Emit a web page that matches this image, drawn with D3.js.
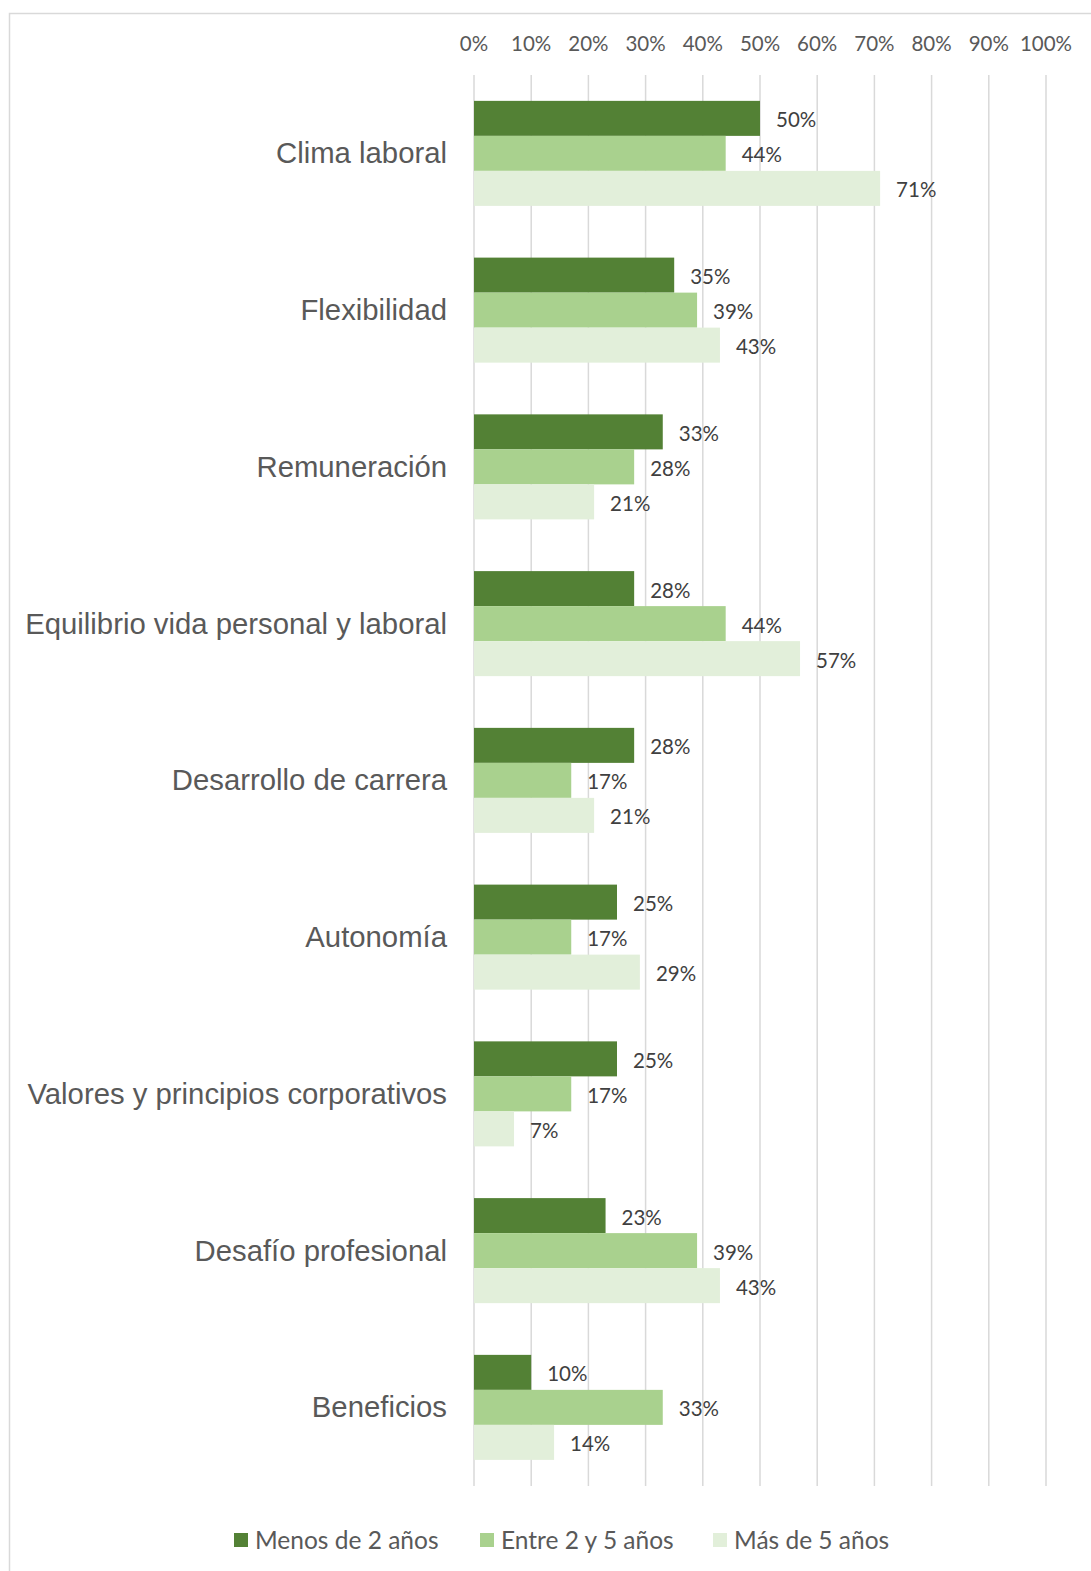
<!DOCTYPE html>
<html>
<head>
<meta charset="utf-8">
<script src="https://cdn.jsdelivr.net/npm/d3@7"></script>
<style>
  html, body { margin: 0; padding: 0; background: #fff; }
</style>
</head>
<body>
<div id="chart"></div>
<script>
// data
const categories = [
    "Clima laboral", "Flexibilidad", "Remuneración", "Equilibrio vida personal y laboral",
    "Desarrollo de carrera", "Autonomía", "Valores y principios corporativos",
    "Desafío profesional", "Beneficios"
];
const seriesNames = ["Menos de 2 años", "Entre 2 y 5 años", "Más de 5 años"];
const menosDe2 = [50, 35, 33, 28, 28, 25, 25, 23, 10];
const entre2y5 = [44, 39, 28, 44, 17, 17, 17, 39, 33];
const masDe5 = [71, 43, 21, 57, 21, 29, 7, 43, 14];
const tickValues = [0, 10, 20, 30, 40, 50, 60, 70, 80, 90, 100];

const seriesValues = [menosDe2, entre2y5, masDe5];
const colors = ["#538135", "#A9D18E", "#E2EFDA"];

const width = 1091;
const height = 1571;
const labelFont = "Lato, 'Open Sans', sans-serif";

// plot area
const margin = { top: 75, left: 474, right: 45, bottom: 85 };

const svg = d3.select("#chart")
    .append("svg")
    .attr("width", width)
    .attr("height", height);

// chart border (runs off the right and bottom edges)
svg.append("rect")
    .attr("x", 9.5)
    .attr("y", 13.5)
    .attr("width", 1200)
    .attr("height", 1700)
    .attr("fill", "none")
    .attr("stroke", "#D9D9D9")
    .attr("stroke-width", 1.5);

const x = d3.scaleLinear()
    .domain([0, 100])
    .range([margin.left, 1046]);

const y = d3.scaleBand()
    .domain(categories)
    .range([margin.top, 75 + 9 * 156.75])
    .paddingInner(0.33)
    .paddingOuter(0.165);

const ySub = d3.scaleBand()
    .domain(seriesNames)
    .range([0, y.bandwidth()]);

// gridlines
svg.append("g")
    .selectAll("line")
    .data(tickValues)
    .join("line")
    .attr("x1", d => x(d))
    .attr("x2", d => x(d))
    .attr("y1", margin.top)
    .attr("y2", 1486)
    .attr("stroke", "#D9D9D9")
    .attr("stroke-width", 1.5);

// top axis labels
svg.append("g")
    .attr("font-family", labelFont)
    .attr("font-size", 20.5)
    .attr("fill", "#595959")
    .attr("text-anchor", "middle")
    .selectAll("text")
    .data(tickValues)
    .join("text")
    .attr("x", d => x(d))
    .attr("y", 51)
    .text(d => d + "%");

// category labels
svg.append("g")
    .attr("font-family", "'Liberation Sans', Arial, sans-serif")
    .attr("font-size", 29.3)
    .attr("fill", "#595959")
    .attr("text-anchor", "end")
    .selectAll("text")
    .data(categories)
    .join("text")
    .attr("x", 447)
    .attr("y", d => y(d) + y.bandwidth() / 2 + 10)
    .text(d => d);

// bars + value labels per series
seriesNames.forEach((name, s) => {
    const rows = categories.map((c, i) => ({ cat: c, value: seriesValues[s][i] }));
    const g = svg.append("g");

    g.selectAll("rect")
        .data(rows)
        .join("rect")
        .attr("x", x(0))
        .attr("y", d => y(d.cat) + ySub(name))
        .attr("width", d => x(d.value) - x(0))
        .attr("height", ySub.bandwidth())
        .attr("fill", colors[s]);

    g.selectAll("text")
        .data(rows)
        .join("text")
        .attr("x", d => x(d.value) + 16)
        .attr("y", d => y(d.cat) + ySub(name) + ySub.bandwidth() / 2 + 9)
        .attr("font-family", labelFont)
        .attr("font-size", 20.5)
        .attr("fill", "#404040")
        .text(d => d.value + "%");
});

// legend
const legendX = [234, 480, 713];
const legend = svg.append("g")
    .selectAll("g")
    .data(seriesNames)
    .join("g")
    .attr("transform", (d, i) => `translate(${legendX[i]}, 1540)`);

legend.append("rect")
    .attr("x", 0)
    .attr("y", -7)
    .attr("width", 14)
    .attr("height", 14)
    .attr("fill", (d, i) => colors[i]);

legend.append("text")
    .attr("x", 21)
    .attr("y", 9)
    .attr("font-family", labelFont)
    .attr("font-size", 24.5)
    .attr("fill", "#595959")
    .text(d => d);
</script>
</body>
</html>
